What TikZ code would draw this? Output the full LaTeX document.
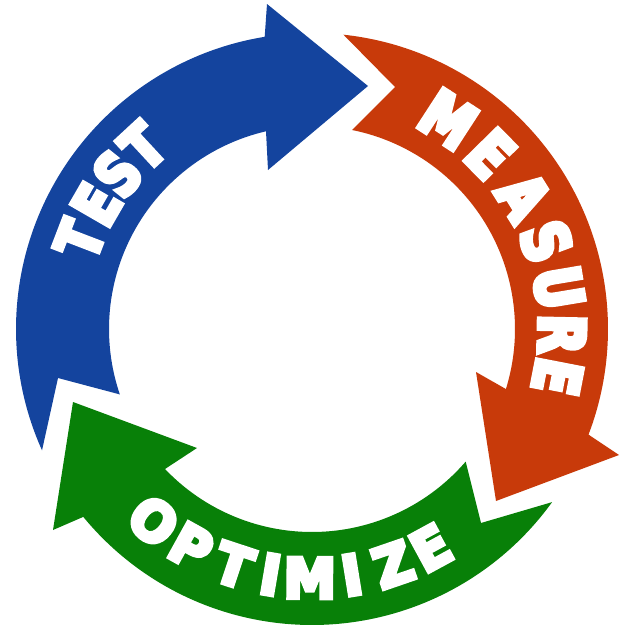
\documentclass[tikz,border=0pt]{standalone}
\usepackage{fontspec}
\usetikzlibrary{calc}
\newfontfamily\heavyN{DejaVu Sans}[BoldFeatures={FakeBold=8,FakeStretch=0.8}]
\newfontfamily\heavyM{DejaVu Sans}[BoldFeatures={FakeBold=8,FakeStretch=0.8}]
\newfontfamily\heavyW{DejaVu Sans}[BoldFeatures={FakeBold=8,FakeStretch=0.95}]
\definecolor{cblue}{RGB}{20,68,158}
\definecolor{corange}{RGB}{200,58,10}
\definecolor{cgreen}{RGB}{8,128,8}
\begin{document}
\begin{tikzpicture}[x=1pt,y=-1pt,
  lbl/.style={text=white, inner sep=0pt, outer sep=0pt},
  testfont/.style={font=\heavyN\bfseries\fontsize{60}{60}\selectfont},
  measfont/.style={font=\heavyM\bfseries\fontsize{63}{63}\selectfont},
  optfont/.style={font=\heavyW\bfseries\fontsize{55}{55}\selectfont}]
\useasboundingbox (0,0) rectangle (632,632);
\coordinate (C) at (312,329);
% blue arrow (TEST)
\fill[cblue] ([shift={(155.8:296)}]C) arc[start angle=155.8, end angle=260.8, radius=296]
  -- (267,4) -- (368,86) -- (268,170)
  -- ([shift={(256.9:203)}]C) arc[start angle=256.9, end angle=161.2, radius=203]
  -- (58,378) -- cycle;
% orange arrow (MEASURE)
\fill[corange] ([shift={(-83.9:296)}]C) arc[start angle=-83.9, end angle=20.9, radius=296]
  -- (619,455) -- (496,501) -- (476,372)
  -- ([shift={(17.2:203)}]C) arc[start angle=17.2, end angle=-78.6, radius=203]
  -- (395,87) -- cycle;
% green arrow (OPTIMIZE)
\fill[cgreen] ([shift={(35.8:296)}]C) arc[start angle=35.8, end angle=140.6, radius=296]
  -- (53,530) -- (73,402) -- (197,448)
  -- ([shift={(136.4:203)}]C) arc[start angle=136.4, end angle=40.8, radius=203]
  -- (481,523) -- cycle;
% labels
\foreach \a/\c [count=\i] in {201/T,210/E,218.6/S,227.2/T}
  \node[lbl, testfont, rotate=-\a-90] (test\i) at ([shift={(\a:249)}]C) {\c};
\foreach \a/\c [count=\i] in {-57/M,-44.5/E,-32/A,-20.5/S,-9.5/U,1.2/R,11/E}
  \node[lbl, measfont, rotate=-\a-90] (meas\i) at ([shift={(\a:250)}]C) {\c};
\foreach \a/\c [count=\i] in {129.5/O,119/P,108.3/T,99.6/I,90.5/M,80.8/I,71/Z,61.5/E}
  \node[lbl, optfont, rotate=-\a+90] (opt\i) at ([shift={(\a:249)}]C) {\c};
\end{tikzpicture}
\end{document}
